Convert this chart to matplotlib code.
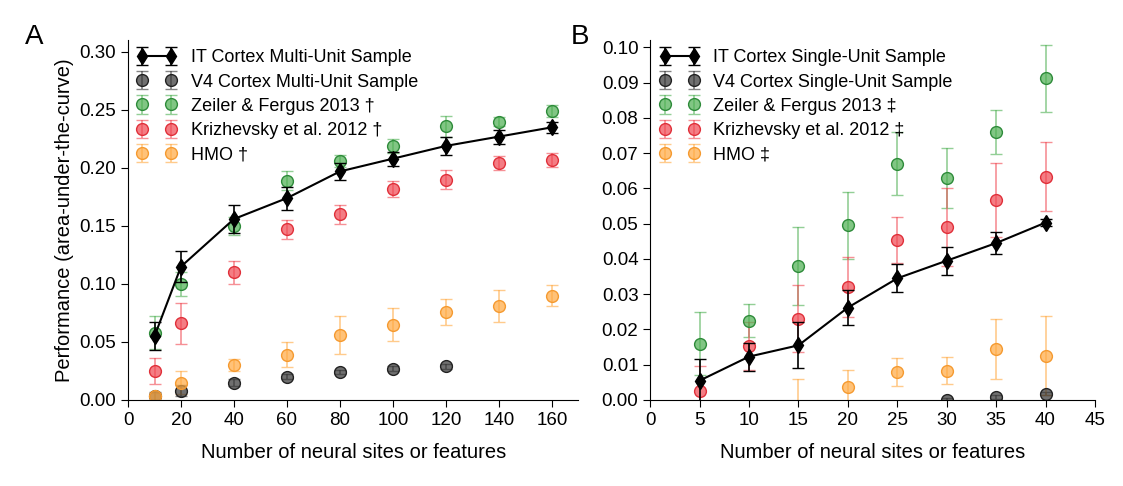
import matplotlib
matplotlib.use("Agg")
import matplotlib.pyplot as plt
import numpy as np
from matplotlib.colors import to_rgba

plt.rcParams['font.family'] = ['Liberation Sans', 'DejaVu Sans']

# Panel A
xa = [10, 20, 40, 60, 80, 100, 120, 140, 160]
it_a = [0.055, 0.115, 0.156, 0.174, 0.197, 0.208, 0.219, 0.227, 0.235]
it_a_e = [0.012, 0.013, 0.012, 0.010, 0.007, 0.006, 0.008, 0.006, 0.005]
xv4a = [10, 20, 40, 60, 80, 100, 120]
v4_a = [0.003, 0.008, 0.015, 0.020, 0.024, 0.027, 0.029]
v4_a_e = [0.004, 0.005, 0.003, 0.002, 0.002, 0.002, 0.002]
zf_a = [0.058, 0.100, 0.150, 0.189, 0.206, 0.219, 0.236, 0.240, 0.249]
zf_a_e = [0.014, 0.010, 0.008, 0.008, 0.005, 0.006, 0.009, 0.004, 0.005]
kr_a = [0.025, 0.066, 0.110, 0.147, 0.160, 0.182, 0.190, 0.204, 0.207]
kr_a_e = [0.011, 0.018, 0.010, 0.008, 0.008, 0.007, 0.008, 0.006, 0.006]
hmo_a = [0.003, 0.015, 0.030, 0.039, 0.056, 0.065, 0.076, 0.081, 0.090]
hmo_a_e = [0.003, 0.010, 0.005, 0.011, 0.016, 0.014, 0.011, 0.014, 0.009]

# Panel B
xb = [5, 10, 15, 20, 25, 30, 35, 40]
it_b = [0.0055, 0.0123, 0.0155, 0.0262, 0.0345, 0.0395, 0.0445, 0.0503]
it_b_e = [0.006, 0.004, 0.0065, 0.005, 0.004, 0.004, 0.003, 0.001]
xv4b = [30, 35, 40]
v4_b = [0.0, 0.0008, 0.0018]
v4_b_e = [0.0005, 0.0005, 0.0005]
zf_b = [0.016, 0.0225, 0.038, 0.0495, 0.067, 0.063, 0.076, 0.0913]
zf_b_e = [0.009, 0.0047, 0.011, 0.0095, 0.009, 0.0085, 0.0063, 0.0095]
kr_b = [0.0026, 0.0152, 0.023, 0.032, 0.0453, 0.049, 0.0568, 0.0633]
kr_b_e = [0.007, 0.0068, 0.0095, 0.0085, 0.0065, 0.011, 0.0105, 0.0098]
xhb = [15, 20, 25, 30, 35, 40]
hmo_b = [-0.002, 0.0038, 0.0079, 0.0083, 0.0145, 0.0125]
hmo_b_e = [0.008, 0.0048, 0.004, 0.0039, 0.0086, 0.0112]

GREEN = '#4caf50'; RED = '#f04650'; ORANGE = '#ffa940'; GREY = '#333333'
EDGE = {GREEN: '#2e8b3a', RED: '#e0303a', ORANGE: '#f59a30', GREY: '#222222'}

fig = plt.figure(figsize=(11.23, 4.86), dpi=100)
axA = fig.add_axes([0.114, 0.177, 0.401, 0.74])
axB = fig.add_axes([0.579, 0.177, 0.396, 0.74])

def pts(ax, x, y, e, c, lab):
    ax.errorbar(x, y, yerr=e, fmt='o', ms=8.5, mfc=to_rgba(c, 0.7), mec=EDGE[c], mew=1,
                ecolor=to_rgba(c, 0.6), capsize=4, elinewidth=1.2, label=lab)

def draw(ax, x, it, ite, xv, v4, v4e, zf, zfe, kr, kre, xh, hm, hme, kind, sym):
    ax.errorbar(x, it, yerr=ite, fmt='-d', color='black', ms=8, lw=1.5, capsize=4,
                elinewidth=1.2, label=f'IT Cortex {kind} Sample', zorder=5)
    pts(ax, xv, v4, v4e, GREY, f'V4 Cortex {kind} Sample')
    pts(ax, x, zf, zfe, GREEN, f'Zeiler & Fergus 2013 {sym}')
    pts(ax, x, kr, kre, RED, f'Krizhevsky et al. 2012 {sym}')
    pts(ax, xh, hm, hme, ORANGE, f'HMO {sym}')
    for s in ['top', 'right']:
        ax.spines[s].set_visible(False)
    ax.tick_params(labelsize=13.5, direction='out', length=5)
    ax.set_xlabel('Number of neural sites or features', fontsize=14.5, labelpad=10)
    ax.legend(loc='upper left', numpoints=2, frameon=False, fontsize=13,
              borderaxespad=0.1, handlelength=2.2, labelspacing=0.4)

draw(axA, xa, it_a, it_a_e, xv4a, v4_a, v4_a_e, zf_a, zf_a_e, kr_a, kr_a_e,
     xa, hmo_a, hmo_a_e, 'Multi-Unit', '†')
axA.set_xlim(0, 170); axA.set_ylim(0, 0.31)
axA.set_xticks(range(0, 161, 20))
axA.set_yticks(np.arange(0, 0.301, 0.05))
axA.set_yticklabels([f'{v:.2f}' for v in np.arange(0, 0.301, 0.05)])
axA.set_ylabel('Performance (area-under-the-curve)', fontsize=14.5)

draw(axB, xb, it_b, it_b_e, xv4b, v4_b, v4_b_e, zf_b, zf_b_e, kr_b, kr_b_e,
     xhb, hmo_b, hmo_b_e, 'Single-Unit', '‡')
axB.set_xlim(0, 45); axB.set_ylim(0, 0.102)
axB.set_xticks(range(0, 46, 5))
axB.set_yticks(np.arange(0, 0.1001, 0.01))
axB.set_yticklabels([f'{v:.2f}' for v in np.arange(0, 0.1001, 0.01)])

fig.text(0.022, 0.91, 'A', fontsize=20)
fig.text(0.508, 0.91, 'B', fontsize=20)
fig.savefig('out.png', dpi=100)
